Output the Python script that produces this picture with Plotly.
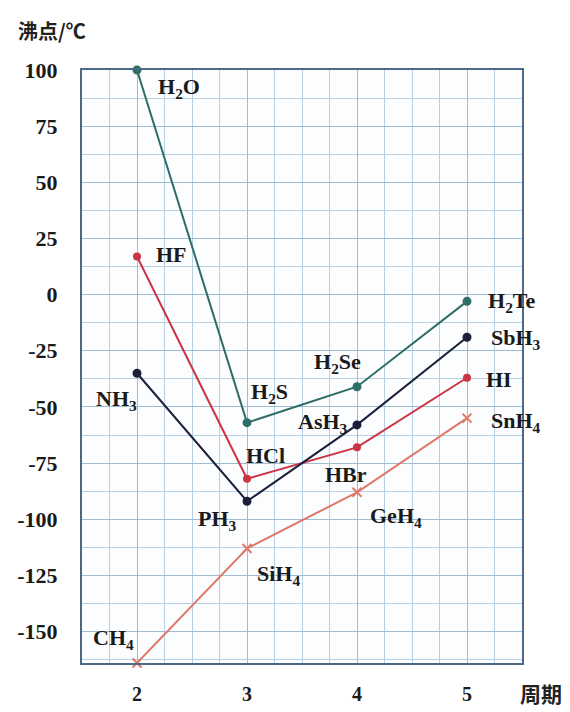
import plotly.graph_objects as go

periods = [2, 3, 4, 5]

# Boiling points (°C)
group16 = [100, -57, -41, -3]      # H2O, H2S, H2Se, H2Te
group17 = [17, -82, -68, -37]      # HF, HCl, HBr, HI
group15 = [-35, -92, -58, -19]     # NH3, PH3, AsH3, SbH3
group14 = [-164, -113, -88, -55]   # CH4, SiH4, GeH4, SnH4

names16 = ["H<sub>2</sub>O", "H<sub>2</sub>S", "H<sub>2</sub>Se", "H<sub>2</sub>Te"]
names17 = ["HF", "HCl", "HBr", "HI"]
names15 = ["NH<sub>3</sub>", "PH<sub>3</sub>", "AsH<sub>3</sub>", "SbH<sub>3</sub>"]
names14 = ["CH<sub>4</sub>", "SiH<sub>4</sub>", "GeH<sub>4</sub>", "SnH<sub>4</sub>"]

y_ticks = [100, 75, 50, 25, 0, -25, -50, -75, -100, -125, -150]

# label pixel offsets (dx, dy) relative to each point
off16 = [(42, -18), (22, 30), (-20, 24), (44, -1)]
off17 = [(34, 2), (18, 23), (-11, -27), (32, -2)]
off15 = [(-21, -27), (-30, -19), (-34, 2), (49, -2)]
off14 = [(-24, 24), (31, -27), (39, -25), (49, -4)]

fig = go.Figure()

series = [
    (group16, names16, off16, "#2e6e66", "circle", 7),
    (group17, names17, off17, "#cc3444", "circle", 6),
    (group15, names15, off15, "#1b1f3a", "circle", 7),
    (group14, names14, off14, "#e07868", "x-thin", 9),
]

annotations = []
for vals, names, offs, color, sym, ms in series:
    fig.add_trace(go.Scatter(
        x=periods, y=vals, mode="lines+markers",
        line=dict(color=color, width=2),
        marker=dict(color=color, symbol=sym, size=ms,
                    line=dict(color=color, width=2)),
        showlegend=False, cliponaxis=False,
    ))
    for px, v, n, (dx, dy) in zip(periods, vals, names, offs):
        annotations.append(dict(
            x=px, y=v, xref="x", yref="y", text=f"<b>{n}</b>", showarrow=False,
            xshift=dx, yshift=dy,
            font=dict(family="Liberation Serif", size=22, color="#1a1a1a"),
        ))

annotations.append(dict(
    x=-0.068, y=1.066, xref="paper", yref="paper", text="<b>沸点/℃</b>",
    xanchor="center", yanchor="middle",
    showarrow=False, font=dict(family="Noto Sans CJK SC", size=20, color="#222")))
annotations.append(dict(
    x=1.043, y=-0.05, xref="paper", yref="paper", text="<b>周期</b>",
    xanchor="center", yanchor="middle",
    showarrow=False, font=dict(family="Noto Sans CJK SC", size=21, color="#222")))

fig.update_layout(
    width=570, height=712,
    margin=dict(l=74, r=56, t=62, b=57),
    paper_bgcolor="white", plot_bgcolor="#fbfdff",
    annotations=annotations,
    font=dict(family="Liberation Serif", size=22, color="#1a1a1a"),
)
fig.update_xaxes(
    range=[1.5, 5.5], tickvals=periods, ticktext=[f"<b>{p}</b>" for p in periods],
    tickfont=dict(size=20),
    showgrid=True, gridcolor="#9fbdd2", gridwidth=1,
    minor=dict(dtick=0.25, tick0=1.5, showgrid=True, gridcolor="#b8d0e2", gridwidth=1),
    showline=True, linecolor="#4a6a88", linewidth=2, mirror=True,
    ticks="", ticklabelstandoff=12, zeroline=False, automargin=False,
)
fig.update_yaxes(
    range=[-164, 100], tickvals=y_ticks, ticktext=[f"<b>{t}</b>" for t in y_ticks],
    showgrid=True, gridcolor="#9fbdd2", gridwidth=1,
    minor=dict(dtick=12.5, tick0=0, showgrid=True, gridcolor="#b8d0e2", gridwidth=1),
    showline=True, linecolor="#4a6a88", linewidth=2, mirror=True,
    ticks="", ticklabelstandoff=18, zeroline=False, automargin=False,
)

fig.write_html("out.html")
